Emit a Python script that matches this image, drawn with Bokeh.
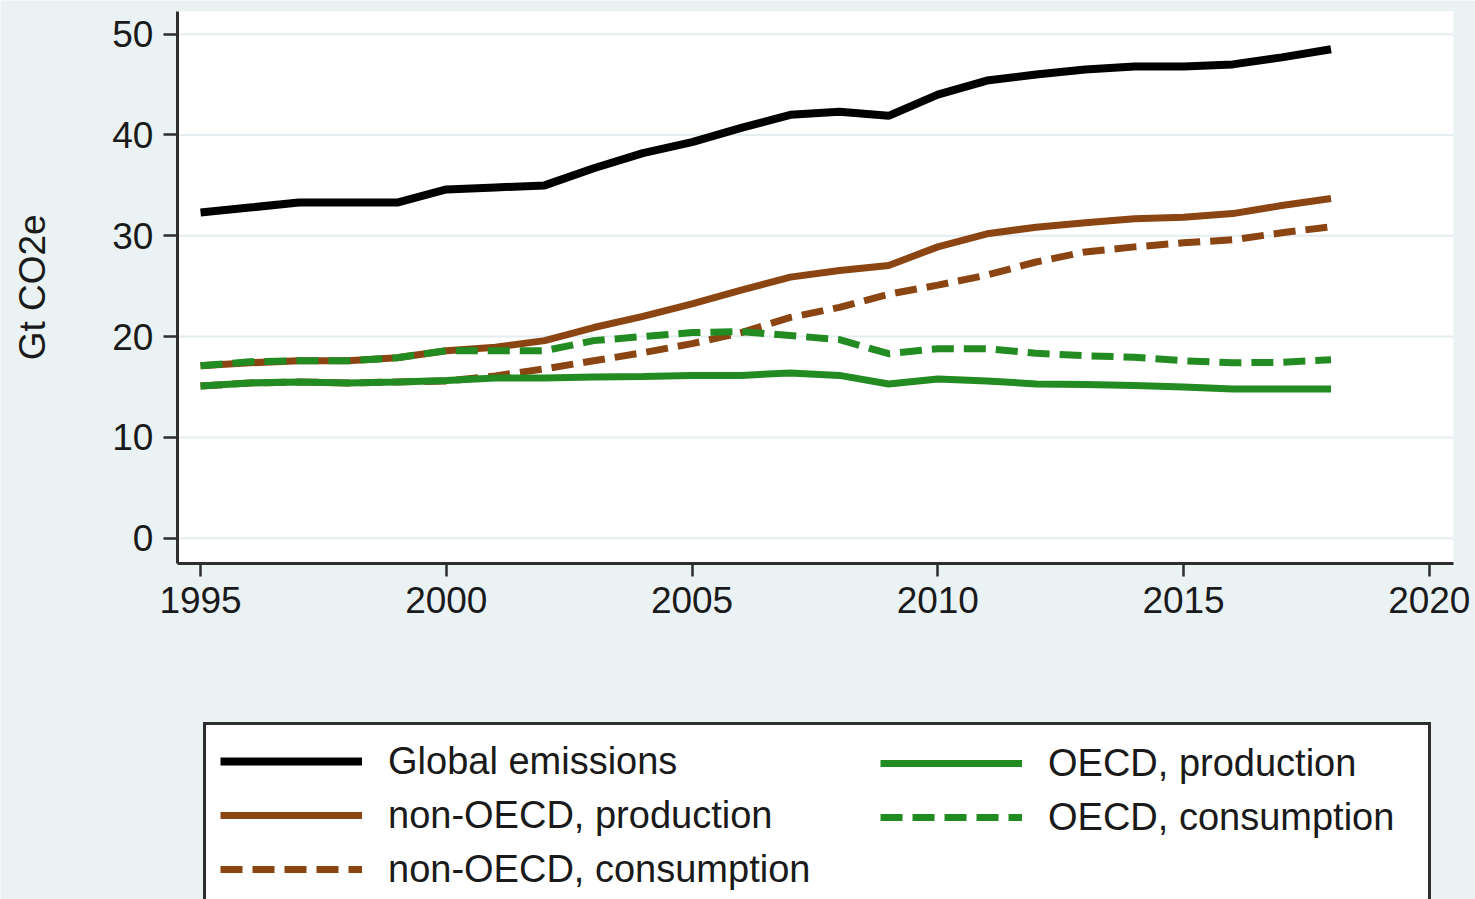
import math
from bokeh.plotting import figure
from bokeh.models import (ColumnDataSource, FixedTicker, Range1d, Legend, LegendItem,
                          BoxAnnotation, Label)
from bokeh.embed import file_html
from bokeh.resources import INLINE

years = list(range(1995, 2019))
global_emissions = [32.3, 32.8, 33.3, 33.3, 33.3, 34.6, 34.8, 35.0, 36.7, 38.2, 39.3, 40.7,
                    42.0, 42.3, 41.9, 44.0, 45.4, 46.0, 46.5, 46.8, 46.8, 47.0, 47.7, 48.5]
non_oecd_production = [17.1, 17.4, 17.6, 17.6, 17.9, 18.6, 18.95, 19.6, 20.9, 22.0, 23.25, 24.6,
                       25.9, 26.55, 27.05, 28.9, 30.2, 30.85, 31.3, 31.7, 31.85, 32.2, 33.0, 33.7]
non_oecd_consumption = [15.1, 15.4, 15.5, 15.4, 15.5, 15.6, 16.1, 16.8, 17.6, 18.4, 19.3, 20.4,
                        21.9, 22.9, 24.2, 25.1, 26.1, 27.4, 28.4, 28.9, 29.3, 29.6, 30.3, 30.9]
oecd_production = [15.1, 15.4, 15.5, 15.4, 15.5, 15.65, 15.9, 15.9, 16.0, 16.05, 16.15, 16.15,
                   16.4, 16.15, 15.3, 15.8, 15.6, 15.3, 15.25, 15.15, 15.0, 14.8, 14.8, 14.8]
oecd_consumption = [17.1, 17.5, 17.6, 17.6, 17.9, 18.6, 18.6, 18.6, 19.6, 20.0, 20.4, 20.5,
                    20.1, 19.7, 18.3, 18.8, 18.8, 18.35, 18.1, 17.95, 17.6, 17.4, 17.45, 17.7]

x_ticks = [1995, 2000, 2005, 2010, 2015, 2020]
y_ticks = [0, 10, 20, 30, 40, 50]
y_title = "Gt CO2e"

# extents of the plot region (axes)
X_MIN, X_MAX = 1994.53, 2020.49
Y_MIN, Y_MAX = -2.51, 52.28
# the frame spans the whole canvas so the legend and tick labels are not clipped
X_FRAME = (1990.93, 2020.94)
Y_FRAME = (-35.84, 53.34)
PX_PER_YEAR = 1475 / (X_FRAME[1] - X_FRAME[0])

BG = "#EAF2F3"
AXIS = "#2e2e2e"
TXT = "#1a1a1a"
BROWN = "#8B4513"
GREEN = "#228B22"
GRID = "#E4EDEF"
FONT = "Liberation Sans"

src = ColumnDataSource(dict(
    year=years, glob=global_emissions, nop=non_oecd_production, noc=non_oecd_consumption,
    op=oecd_production, oc=oecd_consumption))

p = figure(width=1475, height=899, output_backend="svg", toolbar_location=None,
           x_range=Range1d(*X_FRAME), y_range=Range1d(*Y_FRAME),
           min_border=0)
p.background_fill_color = BG
p.border_fill_color = BG
p.outline_line_color = None
p.xgrid.visible = False
p.ygrid.visible = False

plot_area = BoxAnnotation(left=X_MIN, right=X_MAX, bottom=Y_MIN, top=Y_MAX,
                          fill_color="white", fill_alpha=1.0, line_color=None, level="underlay")
p.add_layout(plot_area)

# horizontal grid lines at the y ticks, limited to the plot region
p.segment(x0=[X_MIN] * len(y_ticks), x1=[X_MAX] * len(y_ticks), y0=y_ticks, y1=y_ticks,
          line_color=GRID, line_width=2)

r_glob = p.line("year", "glob", source=src, line_color="black", line_width=8)
r_nop = p.line("year", "nop", source=src, line_color=BROWN, line_width=7)
r_noc = p.line("year", "noc", source=src, line_color=BROWN, line_width=7, line_dash="22 10")
r_op = p.line("year", "op", source=src, line_color=GREEN, line_width=7)
r_oc = p.line("year", "oc", source=src, line_color=GREEN, line_width=7, line_dash="22 10")

p.xaxis.ticker = FixedTicker(ticks=x_ticks)
p.yaxis.ticker = FixedTicker(ticks=y_ticks)
p.xaxis.fixed_location = Y_MIN
p.yaxis.fixed_location = X_MIN
p.xaxis.bounds = (X_MIN, X_MAX)
p.yaxis.bounds = (Y_MIN, Y_MAX)
for ax in (p.xaxis[0], p.yaxis[0]):
    ax.axis_line_color = AXIS
    ax.axis_line_width = 3
    ax.major_tick_line_color = AXIS
    ax.major_tick_line_width = 2.5
    ax.major_tick_in = 0
    ax.minor_tick_line_color = None
    ax.major_label_text_font = FONT
    ax.major_label_text_font_size = "37px"
    ax.major_label_text_color = TXT
p.xaxis.major_tick_out = 13
p.xaxis.major_label_standoff = 10
p.yaxis.major_tick_out = 14
p.yaxis.major_label_standoff = 10

title = Label(x=X_MIN - 145 / PX_PER_YEAR, y=(Y_MIN + Y_MAX) / 2, text=y_title,
              angle=math.pi / 2, text_align="center", text_baseline="middle",
              text_font=FONT, text_font_size="37px", text_color=TXT)
p.add_layout(title)

common = dict(label_text_font=FONT, label_text_font_size="38px", label_text_color=TXT,
              glyph_width=142, glyph_height=44, label_height=44, label_standoff=26,
              spacing=10, padding=14, margin=0)

leg1 = Legend(items=[LegendItem(label="Global emissions", renderers=[r_glob]),
                     LegendItem(label="non-OECD, production", renderers=[r_nop]),
                     LegendItem(label="non-OECD, consumption", renderers=[r_noc])],
              location=(203, -9), label_width=1026,
              border_line_color=AXIS, border_line_width=3, border_line_alpha=1.0,
              background_fill_color="white", background_fill_alpha=1.0, **common)
leg2 = Legend(items=[LegendItem(label="OECD, production", renderers=[r_op]),
                     LegendItem(label="OECD, consumption", renderers=[r_oc])],
              location=(880, 60), label_width=20,
              border_line_color=None, background_fill_alpha=0.0, **common)
p.add_layout(leg1, "center")
p.add_layout(leg2, "center")

open("out.html", "w").write(file_html(p, INLINE))
